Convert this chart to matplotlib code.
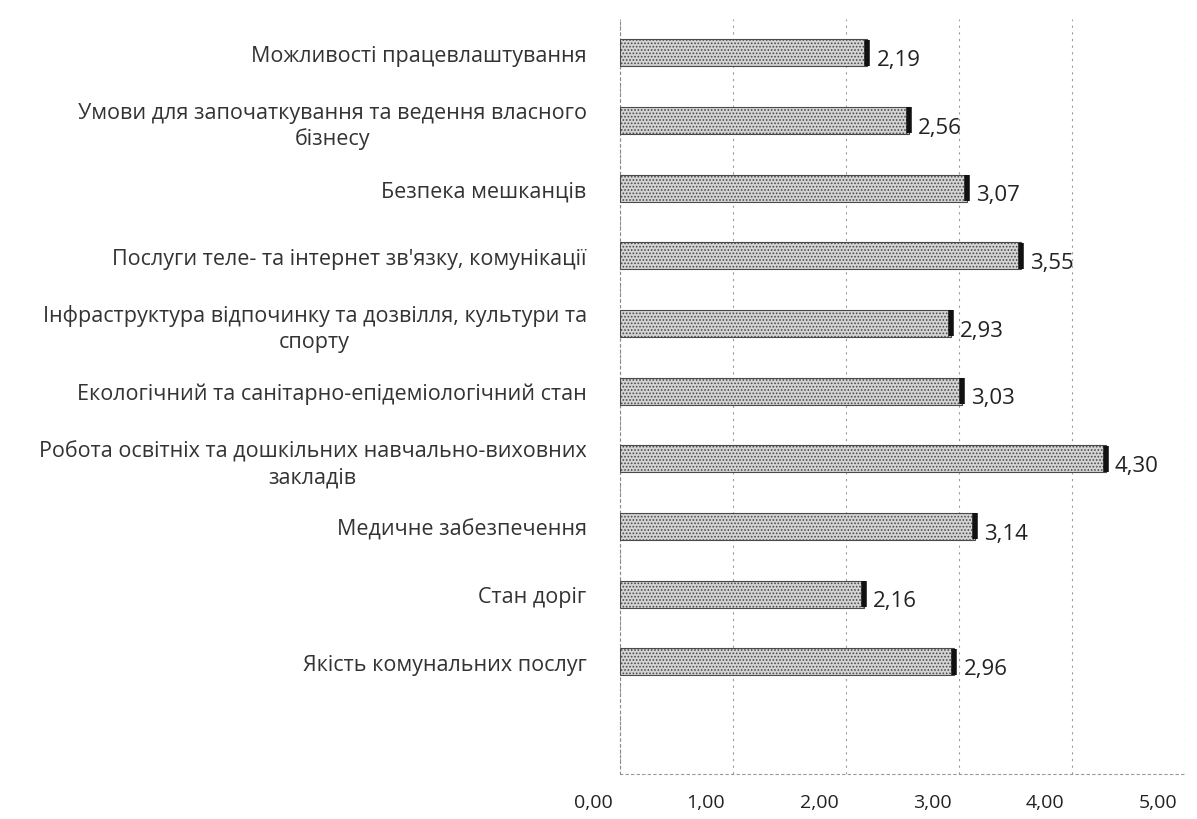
import matplotlib
matplotlib.use("Agg")
import matplotlib.pyplot as plt
from matplotlib.transforms import ScaledTranslation

categories = [
    "Можливості працевлаштування",
    "Умови для започаткування та ведення власного\nбізнесу",
    "Безпека мешканців",
    "Послуги теле- та інтернет зв'язку, комунікації",
    "Інфраструктура відпочинку та дозвілля, культури та\nспорту",
    "Екологічний та санітарно-епідеміологічний стан",
    "Робота освітніх та дошкільних навчально-виховних\nзакладів",
    "Медичне забезпечення",
    "Стан доріг",
    "Якість комунальних послуг",
]
values = [2.19, 2.56, 3.07, 3.55, 2.93, 3.03, 4.30, 3.14, 2.16, 2.96]
xticks = [0, 1, 2, 3, 4, 5]
xtick_labels = ["0,00", "1,00", "2,00", "3,00", "4,00", "5,00"]

plt.rcParams['font.family'] = ['Open Sans', 'DejaVu Sans']
plt.rcParams['hatch.color'] = '#6e6e6e'
plt.rcParams['hatch.linewidth'] = 0.8

fig = plt.figure(figsize=(11.97, 8.20), dpi=100)
ax = fig.add_axes([620 / 1197, 1 - 775 / 820, 565 / 1197, 755 / 820])

ypos = list(range(len(categories)))
ax.barh(ypos, values, height=0.4, color='#d4d4d4', hatch='.....',
        edgecolor='#4a4a4a', linewidth=0.8, zorder=3)
ax.plot(values, ypos, linestyle='none', marker='|', markersize=19,
        markeredgewidth=4, color='#111111', zorder=4)

for y, v in zip(ypos, values):
    ax.text(v + 0.08, y + 0.1, f"{v:.2f}".replace('.', ','), va='center', ha='left',
            fontsize=16, color='#222222')

ax.set_xlim(0, 5)
ax.set_ylim(10.66, -0.5)
ax.set_yticks(ypos)
ax.set_yticklabels(categories, fontsize=15.5, color='#333333',
                   multialignment='center', linespacing=1.3)
ax.set_xticks(xticks)
ax.set_xticklabels(xtick_labels, fontsize=14, color='#222222')
ax.tick_params(axis='y', length=0, pad=24)
ax.tick_params(axis='x', length=0, pad=14)
off = ScaledTranslation(-0.27, 0, fig.dpi_scale_trans)
for lab in ax.get_xticklabels():
    lab.set_transform(lab.get_transform() + off)

ax.grid(axis='x', linestyle=(0, (2, 4)), color='#9a9a9a', linewidth=0.8, zorder=0)
for s in ['top', 'right']:
    ax.spines[s].set_visible(False)
ax.spines['left'].set_linestyle((0, (2, 3)))
ax.spines['left'].set_color('#888888')
ax.spines['bottom'].set_linestyle((0, (2, 3)))
ax.spines['bottom'].set_color('#999999')

fig.savefig("out.png", dpi=100, facecolor='white')
